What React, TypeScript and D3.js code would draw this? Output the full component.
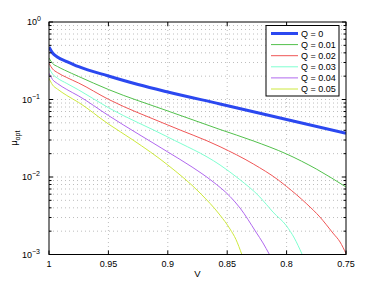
import React from 'react';
import * as d3 from 'd3';

// V values (x axis, reversed) and mu_opt
const vQ0 = [1, 0.997, 0.993, 0.985, 0.975, 0.95, 0.925, 0.9, 0.856, 0.8, 0.75];
const muQ0 = [0.476, 0.398, 0.353, 0.309, 0.265, 0.201, 0.156, 0.125, 0.0875, 0.0552, 0.0366];

const vQ1 = [1, 0.997, 0.993, 0.987, 0.975, 0.95, 0.9, 0.856, 0.828, 0.8, 0.775, 0.75];
const muQ1 = [0.343, 0.292, 0.267, 0.24, 0.198, 0.1346, 0.0711, 0.041, 0.0292, 0.0198, 0.01268, 0.00743];

const vQ2 = [1, 0.997, 0.993, 0.985, 0.975, 0.95, 0.9, 0.856, 0.828, 0.807, 0.8, 0.783, 0.772, 0.761, 0.755, 0.75];
const muQ2 = [0.293, 0.248, 0.223, 0.192, 0.163, 0.1006, 0.0469, 0.0246, 0.01472, 0.00915, 0.00754, 0.00449, 0.00305, 0.00189, 0.00145, 0.00103];

const vQ3 = [1, 0.997, 0.993, 0.985, 0.975, 0.95, 0.9, 0.856, 0.8395, 0.8225, 0.8115, 0.8, 0.7935, 0.787];
const muQ3 = [0.255, 0.213, 0.189, 0.161, 0.1327, 0.0784, 0.0328, 0.01428, 0.00929, 0.00552, 0.00353, 0.00233, 0.00163, 0.00101];

const vQ4 = [1, 0.997, 0.993, 0.985, 0.975, 0.95, 0.9, 0.8796, 0.8628, 0.8476, 0.8392, 0.8258, 0.8199, 0.8146];
const muQ4 = [0.218, 0.181, 0.161, 0.1346, 0.111, 0.0622, 0.02103, 0.01346, 0.00888, 0.0056, 0.00398, 0.00195, 0.00141, 0.00101];

const vQ5 = [1, 0.997, 0.993, 0.985, 0.975, 0.95, 0.9293, 0.9, 0.8729, 0.8561, 0.8476, 0.8426, 0.8378];
const muQ5 = [0.188, 0.154, 0.1366, 0.1127, 0.0915, 0.0483, 0.03, 0.01428, 0.00622, 0.00323, 0.00213, 0.00156, 0.00101];

const labels = ['Q = 0', 'Q = 0.01', 'Q = 0.02', 'Q = 0.03', 'Q = 0.04', 'Q = 0.05'];
const colors = ['#2b48f0', '#52c04c', '#ef5656', '#7fffd0', '#b068ee', '#cde83e'];
const xTicks = [1, 0.95, 0.9, 0.85, 0.8, 0.75];
const yTicks = [0, -1, -2, -3];

const series = [
  [vQ0, muQ0], [vQ1, muQ1], [vQ2, muQ2], [vQ3, muQ3], [vQ4, muQ4], [vQ5, muQ5]
];

const W = 382, H = 287;
const left = 49, right = 346, top = 22, bottom = 254.5;
const font = 'Liberation Sans, Arial, Helvetica, sans-serif';

export default function App() {
  const x = d3.scaleLinear().domain([1, 0.75]).range([left, right]);
  const y = d3.scaleLog().domain([1e-3, 1]).range([bottom, top]);

  const line = d3.line<[number, number]>()
    .x(d => x(d[0]))
    .y(d => y(d[1]))
    .curve(d3.curveMonotoneX);

  // minor ticks on log axis
  const minor: number[] = [];
  for (let e = -3; e < 0; e++) {
    for (let k = 2; k <= 9; k++) minor.push(k * Math.pow(10, e));
  }

  const gridStyle = { stroke: '#bdbdbd', strokeWidth: 1, strokeDasharray: '1,3' };

  return (
    <svg width={W} height={H} style={{ position: 'absolute', left: 0, top: 0, background: '#fff' }}
      fontFamily={font}>
      <defs>
        <clipPath id="plot">
          <rect x={left} y={top} width={right - left} height={bottom - top} />
        </clipPath>
      </defs>
      <rect x={0} y={0} width={W} height={H} fill="#fff" />

      {/* grid */}
      {minor.map((m, i) => (
        <line key={'hm' + i} x1={left} x2={right} y1={y(m)} y2={y(m)} {...gridStyle} />
      ))}
      {yTicks.slice(1, 3).map(e => (
        <line key={'hM' + e} x1={left} x2={right} y1={y(Math.pow(10, e))} y2={y(Math.pow(10, e))} {...gridStyle} />
      ))}
      {xTicks.slice(1, 5).map(t => (
        <line key={'v' + t} x1={x(t)} x2={x(t)} y1={top} y2={bottom} {...gridStyle} />
      ))}

      {/* curves */}
      <g clipPath="url(#plot)">
        {series.map((s, i) => (
          <path key={i}
            d={line(s[0].map((v, j) => [v, s[1][j]] as [number, number])) || ''}
            fill="none" stroke={colors[i]} strokeWidth={i === 0 ? 3 : 1} />
        ))}
      </g>

      {/* ticks */}
      {xTicks.map(t => (
        <g key={'xt' + t}>
          <line x1={x(t)} x2={x(t)} y1={bottom} y2={bottom - 4} stroke="#000" />
          <line x1={x(t)} x2={x(t)} y1={top} y2={top + 4} stroke="#000" />
          <text x={x(t)} y={bottom + 12} fontSize={9} textAnchor="middle" fill="#000">{String(t)}</text>
        </g>
      ))}
      {minor.map((m, i) => (
        <g key={'ym' + i}>
          <line x1={left} x2={left + 2.5} y1={y(m)} y2={y(m)} stroke="#000" />
          <line x1={right} x2={right - 2.5} y1={y(m)} y2={y(m)} stroke="#000" />
        </g>
      ))}
      {yTicks.map(e => (
        <g key={'yt' + e}>
          <line x1={left} x2={left + 4} y1={y(Math.pow(10, e))} y2={y(Math.pow(10, e))} stroke="#000" />
          <line x1={right} x2={right - 4} y1={y(Math.pow(10, e))} y2={y(Math.pow(10, e))} stroke="#000" />
          <text x={e === 0 ? 41 : 40} y={y(Math.pow(10, e)) + 3} fontSize={9} textAnchor="end" fill="#000">
            10<tspan dy={-4} fontSize={7}>{e === 0 ? '0' : '\u2212' + (-e)}</tspan>
          </text>
        </g>
      ))}

      {/* axes box */}
      <rect x={left} y={top} width={right - left} height={bottom - top} fill="none" stroke="#000" strokeWidth={1} />

      {/* axis labels */}
      <text x={(left + right) / 2} y={277} fontSize={9.5} textAnchor="middle" fill="#000">V</text>
      <text transform={`translate(17,${(top + bottom) / 2}) rotate(-90)`} fontSize={9.5} textAnchor="middle" fill="#000">
        μ<tspan dy={3} fontSize={7}>opt</tspan>
      </text>

      {/* legend */}
      <rect x={266} y={25.5} width={73} height={70.5} fill="#fff" stroke="#000" strokeWidth={1} />
      {labels.map((l, i) => (
        <g key={'lg' + i}>
          <line x1={271} x2={298} y1={33.5 + i * 11.1} y2={33.5 + i * 11.1} stroke={colors[i]} strokeWidth={i === 0 ? 3 : 1} />
          <text x={301} y={33.5 + i * 11.1 + 3.3} fontSize={9} fill="#000">{l}</text>
        </g>
      ))}
    </svg>
  );
}
